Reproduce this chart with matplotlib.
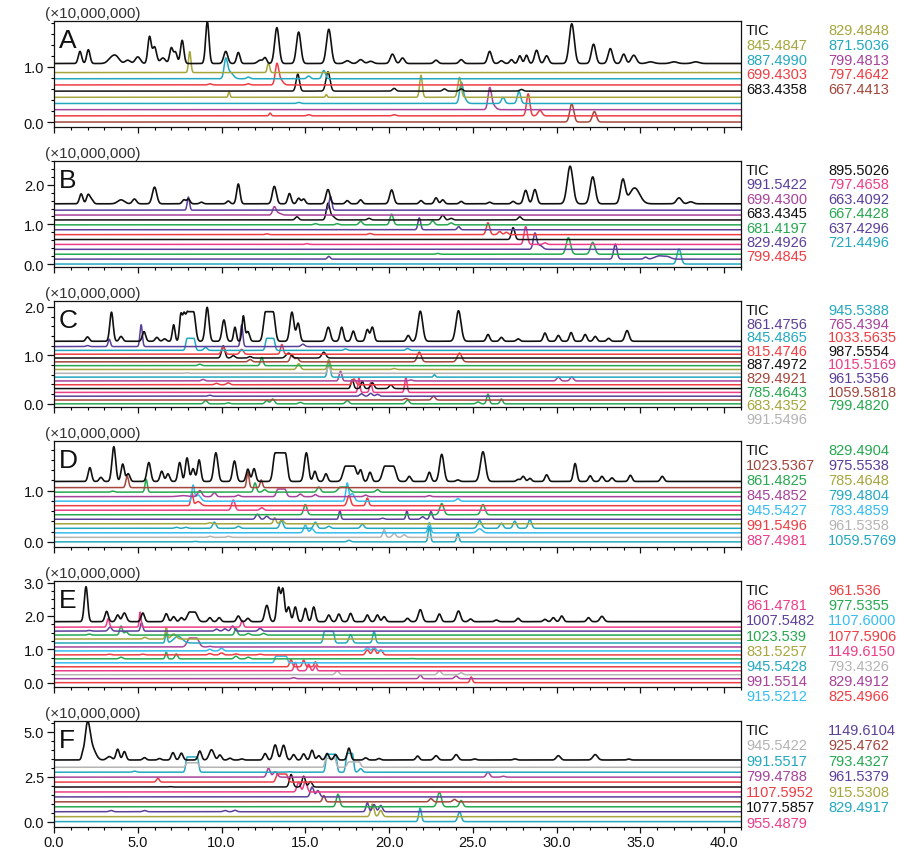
import numpy as np
import matplotlib
matplotlib.use("Agg")
import matplotlib.pyplot as plt
from matplotlib.ticker import MultipleLocator, FixedLocator, FormatStrFormatter, NullFormatter

plt.rcParams['font.family'] = ['Liberation Sans', 'DejaVu Sans']

# ---------------- colours ----------------
C = {
    'black': '#111111', 'olive': '#a6a63c', 'teal': '#22a9c0', 'red': '#ee3e44',
    'magenta': '#a8429a', 'brown': '#a4463c', 'purple': '#5b3f9a', 'green': '#26a850',
    'pink': '#ec3d88', 'lightblue': '#35bdf0', 'gray': '#b4b4b4',
}

# ---------------- data (intensity in x10,000,000; rt in min) ----------------
# peaks: (rt, height[, sigma[, plateau width]])
A_labels = ['845.4847', '887.4990', '699.4303', '683.4358',
            '829.4848', '871.5036', '799.4813', '797.4642', '667.4413']
A_colors = ['olive', 'teal', 'red', 'black', 'olive', 'teal', 'magenta', 'red', 'brown']
A_tic_base = 1.06
A_step = 0.112
A_tic = [(1.55, .22), (2.05, .25), (3.4, .08, .2), (3.7, .12, .2), (4.4, .06, .15), (5.0, .12, .15),
         (5.7, .48), (6.0, .3, .12), (6.5, .1, .15), (7.0, .28), (7.25, .2), (7.65, .42), (9.15, .76),
         (10.25, .22, .12), (11.0, .2), (12.3, .06, .15), (12.6, .1), (13.3, .65, .13), (14.6, .57, .13),
         (16.4, .62, .14), (17.5, .05, .15), (18.3, .07, .15), (18.9, .04, .15), (20.2, .17, .13),
         (20.8, .1, .12), (22.8, .06, .12), (24.3, .07, .12), (26.0, .22, .12), (26.7, .05, .12),
         (27.3, .07), (27.8, .14), (28.2, .15), (28.8, .24, .12), (29.4, .14, .12), (30.9, .72, .15),
         (32.2, .35, .13), (33.2, .27, .13), (34.0, .17, .12), (34.6, .15, .15), (35.6, .03, .2),
         (37.0, .03, .2), (38.3, .03, .2)]
A_eic = [
    [(8.1, .38, .07), (12.8, .18, .07)],
    [(10.25, .33, .1), (10.5, .12, .18), (11.6, .03), (15.2, .05), (16.1, .15, .1)],
    [(9.3, .02), (11.6, .02), (13.3, .35, .1), (13.5, .1, .15)],
    [(14.55, .31, .1), (16.35, .35, .12), (20.3, .05), (23.3, .04), (24.3, .04), (27.9, .03)],
    [(10.45, .1, .05), (16.25, .05, .05), (21.9, .4, .08), (24.2, .36, .1)],
    [(14.6, .02), (24.3, .32, .1), (24.45, .1, .15), (26.8, .11), (27.75, .22)],
    [(26.0, .37, .1), (26.2, .08, .15)],
    [(12.9, .05, .06), (15.2, .02), (20.3, .02), (28.3, .4, .1), (29.0, .1, .12)],
    [(30.9, .33, .12), (32.25, .19, .12)],
]

B_labels = ['991.5422', '699.4300', '683.4345', '681.4197', '829.4926', '799.4845',
            '895.5026', '797.4658', '663.4092', '667.4428', '637.4296', '721.4496']
B_colors = ['purple', 'magenta', 'black', 'green', 'purple', 'red',
            'black', 'pink', 'purple', 'green', 'purple', 'teal']
B_tic_base = 1.52
B_step = 0.1236
B_tic = [(1.62, .25), (2.04, .23), (2.25, .1), (4.0, .1, .2), (4.8, .12, .12), (6.0, .42, .13),
         (7.75, .1), (8.02, .12), (8.8, .04), (10.4, .07), (11.0, .5, .1), (13.15, .44, .12),
         (14.05, .26), (14.6, .14), (14.9, .12), (16.35, .36, .12), (17.5, .08), (18.3, .1),
         (20.15, .35, .12), (21.9, .08), (22.8, .15), (23.2, .1), (24.3, .06), (26.0, .04),
         (27.4, .06), (28.15, .34, .12), (28.7, .36, .12), (30.8, .95, .17), (32.15, .68, .15),
         (33.95, .6, .14), (34.65, .4, .3), (37.3, .15, .15), (38.0, .05, .15)]
B_eic = [
    [(8.02, .33, .07), (16.5, .35, .08)],
    [(13.15, .2, .1), (13.4, .05, .15)],
    [(14.5, .08), (16.35, .4, .1), (16.6, .1, .15), (18.8, .04), (23.2, .12), (23.7, .04), (27.8, .08)],
    [(15.6, .03), (16.9, .03), (18.3, .09), (20.15, .27, .1), (22.6, .1), (23.7, .05)],
    [(21.8, .3, .08), (24.15, .08, .08)],
    [(12.7, .02), (18.85, .03), (25.9, .3, .1), (26.6, .08), (27.0, .06)],
    [(27.4, .3, .1)],
    [(15.1, .02), (28.15, .45, .1), (29.3, .04)],
    [(28.7, .4, .1), (29.0, .1, .15)],
    [(22.9, .02), (30.7, .42, .13), (32.15, .3, .13)],
    [(16.4, .07, .08), (33.5, .38, .1), (35.3, .05), (36.1, .08, .25), (36.6, .06, .2)],
    [(37.3, .38, .12)],
]

C_labels = ['861.4756', '845.4865', '815.4746', '887.4972', '829.4921', '785.4643', '683.4352', '991.5496',
            '945.5388', '765.4394', '1033.5635', '987.5554', '1015.5169', '961.5356', '1059.5818', '799.4820']
C_colors = ['purple', 'teal', 'red', 'black', 'brown', 'green', 'olive', 'gray',
            'teal', 'magenta', 'red', 'black', 'pink', 'purple', 'brown', 'green']
C_tic_base = 1.29
C_step = 0.0787
C_tic = [(2.0, .09), (3.43, .6, .1), (4.0, .1), (5.37, .2), (6.14, .08), (6.6, .05), (7.14, .34, .08),
         (7.57, .54, .08), (7.75, .45, .08), (8.15, .61, .12, .35), (9.14, .7, .11), (10.14, .44, .11),
         (10.8, .29, .08), (11.3, .52, .08), (11.57, .2), (12.85, .61, .12, .45), (14.2, .6, .12),
         (14.57, .37), (16.37, .29, .12), (17.17, .29, .1), (17.86, .21), (18.7, .24), (19.0, .29),
         (21.14, .12), (21.86, .62, .14), (24.14, .63, .15), (25.9, .14), (26.7, .08), (27.7, .05),
         (29.3, .17), (30.1, .12), (30.86, .18), (31.7, .14), (32.3, .1), (33.1, .06), (34.2, .22, .12)]
C_eic = [
    [(2.0, .02), (3.3, .15, .07), (5.2, .45, .07), (11.2, .45, .07), (14.85, .05)],
    [(8.15, .25, .08, .4), (9.05, .06), (12.9, .25, .08, .4), (17.4, .03), (21.1, .04)],
    [(10.1, .15), (11.2, .1), (13.6, .2, .08)],
    [(10.1, .25, .1), (10.7, .05), (11.7, .03), (14.0, .1, .15), (16.1, .12, .12)],
    [(11.7, .05), (14.2, .15), (14.5, .08), (21.8, .2, .12), (24.2, .18, .13)],
    [(8.7, .03), (12.4, .17, .08)],
    [(14.6, .12), (16.4, .2, .08), (20.3, .02)],
    [(7.9, .01), (16.4, .15, .08)],
    [(16.4, .35, .08), (22.7, .05, .06)],
    [(8.9, .03), (17.1, .2, .08), (21.3, .02), (30.1, .08), (30.9, .08)],
    [(9.7, .03), (10.4, .04), (17.9, .12)],
    [(17.8, .18, .08), (18.4, .15, .08), (19.0, .12), (20.1, .08)],
    [(18.2, .3, .06), (18.9, .2, .07), (21.0, .3, .07)],
    [(9.3, .02), (18.35, .05), (18.9, .06), (19.3, .04)],
    [(21.0, .03), (22.65, .08)],
    [(9.05, .07), (10.4, .02), (12.7, .07), (13.05, .1), (14.7, .03), (17.5, .07), (21.1, .08),
     (25.3, .04), (25.9, .2, .08), (26.7, .1, .08)],
]

D_labels = ['1023.5367', '861.4825', '845.4852', '945.5427', '991.5496', '887.4981',
            '829.4904', '975.5538', '785.4648', '799.4804', '783.4859', '961.5358', '1059.5769']
D_colors = ['brown', 'green', 'magenta', 'lightblue', 'red', 'pink',
            'green', 'purple', 'olive', 'teal', 'lightblue', 'gray', 'teal']
D_tic_base = 1.18
D_step = 0.0883
D_tic = [(2.14, .27), (2.8, .08), (3.57, .68, .11), (4.1, .34), (4.43, .15), (5.66, .37, .11),
         (6.43, .2), (6.8, .15), (7.5, .37), (7.94, .46), (8.3, .25), (8.66, .42), (9.66, .56, .12),
         (10.77, .4, .11), (11.57, .24), (11.94, .25), (13.5, .56, .12, .6), (15.06, .56, .12),
         (15.57, .2), (16.23, .15), (17.65, .3, .15, .5), (18.3, .22), (18.86, .18), (20.0, .3, .15, .5),
         (21.2, .1), (22.4, .18), (23.14, .53, .13), (24.1, .03), (25.6, .58, .15), (27.7, .04),
         (28.0, .1), (28.4, .06), (29.4, .13), (31.1, .35, .1), (32.0, .11), (32.7, .1), (33.3, .07),
         (34.4, .12), (36.3, .1)]
D_eic = [
    [(4.37, .22, .08), (11.57, .3, .07), (12.37, .15, .07)],
    [(3.5, .02), (5.5, .25, .07), (12.0, .18, .08), (12.57, .05), (15.8, .1), (17.3, .1, .15, .4), (19.3, .05)],
    [(7.7, .02, .3), (8.7, .12, .12), (9.57, .08), (11.0, .03), (13.57, .15, .1, .4), (14.7, .05),
     (15.6, .04), (18.6, .03), (22.4, .02)],
    [(8.3, .3, .07), (8.6, .12, .15), (17.5, .35, .08), (17.8, .15, .12), (24.1, .05)],
    [(8.23, .25, .07), (8.6, .08, .15), (17.6, .2, .1), (18.7, .15, .08)],
    [(10.7, .2, .1), (12.4, .05)],
    [(15.0, .2, .1), (23.14, .22, .12), (25.6, .2, .12)],
    [(12.14, .1), (12.7, .06), (17.06, .17, .06), (19.6, .02), (21.06, .17, .06), (22.0, .05), (22.5, .15, .08)],
    [(9.3, .02), (13.17, .12, .08), (13.6, .08)],
    [(7.3, .02), (7.86, .02), (9.57, .12), (11.0, .04), (13.57, .15, .1), (15.6, .12), (16.4, .04),
     (18.4, .08), (25.4, .15, .12), (26.7, .1), (27.5, .14), (28.4, .17)],
    [(15.0, .15, .1), (15.4, .08), (22.4, .2, .08), (25.4, .08, .15)],
    [(9.3, .02), (10.4, .02), (19.7, .15, .08), (20.3, .08), (20.9, .05)],
    [(8.4, .01), (17.6, .03), (22.4, .3, .07), (24.1, .17, .07)],
]

E_labels = ['861.4781', '1007.5482', '1023.539', '831.5257', '945.5428', '991.5514', '915.5212',
            '961.536', '977.5355', '1107.6000', '1077.5906', '1149.6150', '793.4326', '829.4912', '825.4966']
E_colors = ['pink', 'purple', 'green', 'olive', 'teal', 'magenta', 'lightblue',
            'red', 'green', 'lightblue', 'red', 'pink', 'gray', 'magenta', 'red']
E_tic_base = 1.83
E_step = 0.119
E_tic = [(1.91, 1.05, .1), (3.14, .31), (3.8, .2), (4.2, .26, .12), (5.3, .26, .1), (6.7, .24),
         (7.14, .15), (7.6, .12), (8.25, .29, .15, .3), (9.3, .12), (9.86, .12), (11.0, .17),
         (11.57, .1), (12.7, .49, .12), (13.4, 1.0, .1), (13.66, .97, .1), (14.0, .44), (14.4, .44),
         (15.0, .4), (15.5, .44, .1), (16.4, .2), (17.0, .23), (17.7, .25), (18.7, .2), (19.3, .2),
         (19.7, .15), (21.1, .1), (21.86, .36, .12), (23.0, .23), (24.14, .32, .12), (24.86, .08),
         (26.4, .05), (27.7, .1), (29.3, .07), (29.8, .12), (30.3, .17), (31.9, .12), (32.7, .16, .12)]
E_eic = [
    [(3.23, .25, .07), (5.14, .45, .05), (11.23, .2, .07)],
    [(2.1, .02), (3.34, .12, .1), (5.23, .25, .07), (9.7, .06), (10.2, .07), (10.66, .15), (12.3, .08)],
    [(2.1, .03), (4.0, .27, .08), (4.3, .1), (10.86, .2, .08), (11.6, .05), (12.5, .05)],
    [(5.43, .05), (6.7, .35, .06), (7.14, .15, .15)],
    [(6.7, .3, .06), (7.4, .2, .25), (16.4, .35, .08, .5), (17.7, .25, .1), (19.1, .35, .08)],
    [(8.3, .27, .15, .4), (9.3, .02)],
    [(9.3, .05), (10.0, .08), (18.7, .1), (19.1, .1)],
    [(3.3, .02), (5.3, .02), (9.3, .04), (10.0, .06), (10.86, .03), (12.3, .02), (18.7, .15),
     (19.1, .18), (19.5, .15)],
    [(4.0, .05), (6.7, .2, .06), (7.3, .15, .08), (10.86, .08), (11.6, .05), (21.3, .01)],
    [(13.55, .2, .08, .6)],
    [(14.14, .22, .08), (14.9, .2, .08), (15.6, .15, .07)],
    [(14.4, .25, .08), (15.2, .2, .08), (15.6, .15, .07)],
    [(16.9, .12, .1), (23.0, .12, .1), (24.3, .06)],
    [(14.3, .03), (21.86, .12, .08), (24.0, .08, .1)],
    [(24.9, .17, .07)],
]

F_labels = ['945.5422', '991.5517', '799.4788', '1107.5952', '1077.5857', '955.4879',
            '1149.6104', '925.4762', '793.4327', '961.5379', '915.5308', '829.4917']
F_colors = ['gray', 'teal', 'magenta', 'red', 'black', 'pink',
            'purple', 'brown', 'green', 'purple', 'olive', 'teal']
F_tic_base = 3.43
F_step = 0.275
F_tic = [(1.7, .2, .06), (2.0, 1.95, .15), (2.3, .6, .2), (3.3, .19, .15), (3.8, .6, .1), (4.2, .47, .1),
         (5.4, .13), (6.3, .08), (7.1, .41, .1), (7.6, .38, .1), (8.7, .5, .1), (9.4, .57, .14),
         (9.9, .28), (10.5, .1), (11.2, .06), (12.6, .36), (13.2, .84, .12), (13.7, .82, .12),
         (14.3, .3), (14.9, .34), (15.4, .54), (15.8, .24), (16.3, .36), (16.8, .3), (17.6, .66),
         (18.6, .12), (19.4, .08), (21.7, .22), (22.8, .24, .12), (24.0, .3, .12), (25.1, .06),
         (27.5, .06), (30.1, .24, .12), (32.3, .3, .14), (34.3, .05)]
F_eic = [
    [(8.25, .25, .08, .6), (16.5, .5, .08, .5), (17.9, .3, .1, .6)],
    [(4.8, .06), (8.25, .85, .08, .6), (14.0, .03), (16.55, 1.0, .08, .5), (17.65, 1.05, .08, .3), (18.3, .2)],
    [(12.8, .5, .1), (13.2, .3, .12), (25.9, .28, .1), (26.8, .05)],
    [(6.2, .22, .08), (13.6, .45, .1, .5)],
    [(6.9, .02), (14.15, .7, .1), (14.9, .6, .1), (15.3, .3)],
    [(14.6, .55, .1), (15.0, .6, .1)],
    [(15.4, .55, .1), (15.75, .35, .1)],
    [(16.1, .35, .08), (22.5, .18), (23.9, .14)],
    [(16.95, .7, .1), (23.0, .8, .12), (24.3, .35)],
    [(3.4, .07), (5.4, .07), (10.2, .07), (10.8, .08), (18.7, .5, .08), (19.1, .4), (19.5, .35)],
    [(19.0, .7, .1), (19.5, .35)],
    [(21.85, .75, .08), (24.2, .55, .1)],
]

PANELS = [
    dict(letter='A', labels=A_labels, colors=A_colors, tic_base=A_tic_base, step=A_step, tic=A_tic, eic=A_eic,
         ylim=(-0.09, 1.83), yticks=[0.0, 1.0], minor=0.2, row_h=14.8),
    dict(letter='B', labels=B_labels, colors=B_colors, tic_base=B_tic_base, step=B_step, tic=B_tic, eic=B_eic,
         ylim=(-0.075, 2.6), yticks=[0.0, 1.0, 2.0], minor=0.2, row_h=14.4),
    dict(letter='C', labels=C_labels, colors=C_colors, tic_base=C_tic_base, step=C_step, tic=C_tic, eic=C_eic,
         ylim=(-0.065, 2.12), yticks=[0.0, 1.0, 2.0], minor=0.2, row_h=13.6),
    dict(letter='D', labels=D_labels, colors=D_colors, tic_base=D_tic_base, step=D_step, tic=D_tic, eic=D_eic,
         ylim=(-0.1, 1.97), yticks=[0.0, 1.0], minor=0.2, row_h=15.0),
    dict(letter='E', labels=E_labels, colors=E_colors, tic_base=E_tic_base, step=E_step, tic=E_tic, eic=E_eic,
         ylim=(-0.13, 3.05), yticks=[0.0, 1.0, 2.0, 3.0], minor=0.25, row_h=15.2),
    dict(letter='F', labels=F_labels, colors=F_colors, tic_base=F_tic_base, step=F_step, tic=F_tic, eic=F_eic,
         ylim=(-0.3, 5.6), yticks=[0.0, 2.5, 5.0], minor=0.5, row_h=15.5),
]

RT = np.linspace(0, 41, 4101)


def trace(base, peaks):
    y = np.full_like(RT, base)
    for p in peaks:
        rt, h = p[0], p[1]
        s = p[2] if len(p) > 2 else 0.1
        pw = p[3] if len(p) > 3 else 0.0
        d = np.maximum(np.abs(RT - rt) - pw / 2, 0)
        y += h * np.exp(-0.5 * (d / s) ** 2)
    return y


W, H = 904, 854
fig = plt.figure(figsize=(W / 100, H / 100), dpi=100)
left_px, right_px = 54, 741
top0, pitch, hpx = 22, 140.0, 106.0

for i, P in enumerate(PANELS):
    top = top0 + pitch * i
    ax = fig.add_axes([left_px / W, 1 - (top + hpx) / H, (right_px - left_px) / W, hpx / H])
    n = len(P['eic'])
    for k in range(n - 1, -1, -1):
        base = (n - 1 - k) * P['step']
        ax.plot(RT, trace(base, P['eic'][k]), color=C[P['colors'][k]], lw=1.1, zorder=2 + (n - k) * 0.01)
    ax.plot(RT, trace(P['tic_base'], P['tic']), color=C['black'], lw=1.2, zorder=3)

    ax.set_xlim(0, 41)
    ax.set_ylim(*P['ylim'])
    ax.xaxis.set_major_locator(MultipleLocator(5))
    ax.xaxis.set_minor_locator(MultipleLocator(1))
    ax.yaxis.set_major_locator(FixedLocator(P['yticks']))
    ax.yaxis.set_minor_locator(MultipleLocator(P['minor']))
    ax.yaxis.set_major_formatter(FormatStrFormatter('%.1f'))
    if i == len(PANELS) - 1:
        ax.xaxis.set_major_formatter(FormatStrFormatter('%.1f'))
    else:
        ax.xaxis.set_major_formatter(NullFormatter())
    ax.tick_params(axis='both', which='major', direction='out', length=5, width=0.9,
                   labelsize=10.5, colors='#111111', pad=2)
    ax.tick_params(axis='both', which='minor', direction='out', length=2.5, width=0.8)
    ax.tick_params(axis='x', which='major', length=4.5, pad=1.5)
    for sp in ax.spines.values():
        sp.set_linewidth(0.9)
        sp.set_color('#111111')

    ax.text(5 / (right_px - left_px), 1 - 7 / hpx, P['letter'], transform=ax.transAxes,
            fontsize=19, va='top', ha='left', color='#111111')
    fig.text(45 / W, 1 - (top - 1) / H, '(\u00d710,000,000)', fontsize=11, color='#333333',
             va='bottom', ha='left')

    n1 = n // 2
    col1 = [('TIC', 'black')] + list(zip(P['labels'][:n1], P['colors'][:n1]))
    col2 = list(zip(P['labels'][n1:], P['colors'][n1:]))
    row_h = P['row_h']
    for r, (t, c) in enumerate(col1):
        fig.text(746 / W, 1 - (top + 9 + r * row_h) / H, t, color=C[c], fontsize=10.5, va='center', ha='left')
    for r, (t, c) in enumerate(col2):
        fig.text(828 / W, 1 - (top + 9 + r * row_h) / H, t, color=C[c], fontsize=10.5, va='center', ha='left')

fig.savefig('out.png', dpi=100)
